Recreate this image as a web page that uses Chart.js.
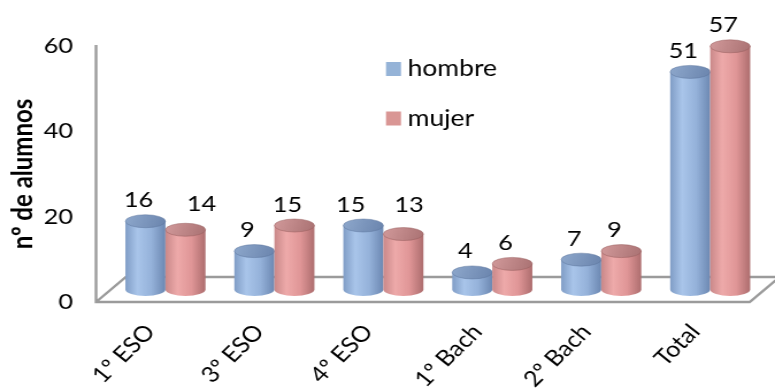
<!DOCTYPE html>
<html>
<head>
<meta charset="utf-8">
<title>Alumnos por curso y sexo</title>
<style>
  html, body { margin: 0; padding: 0; background: #ffffff; overflow: hidden; }
</style>
<script src="https://cdn.jsdelivr.net/npm/chart.js@4"></script>
</head>
<body>
<!-- bitmap is 674 px wide and shown 775 px wide: everything is drawn slightly widened -->
<canvas id="chart" width="674" height="389" style="display:block;width:775px;height:389px"></canvas>
<script>
// ---- data ----
const categories = ['1º ESO', '3º ESO', '4º ESO', '1º Bach', '2º Bach', 'Total'];
const hombre = [16, 9, 15, 4, 7, 51];
const mujer = [14, 15, 13, 6, 9, 57];
const yTicks = [0, 20, 40, 60];
const seriesNames = ['hombre', 'mujer'];

// ---- geometry of the pseudo-3D frame (canvas px) ----
const AXIS_LEFT = 83.5;     // front-left corner of the floor / vertical axis
const AREA_RIGHT = 652;     // front-right corner of the floor
const AREA_TOP = 46;
const AREA_BOTTOM = 302;
const CANVAS_W = 674, CANVAS_H = 389;
const DEPTH_X = 26, DEPTH_Y = -25;            // floor depth vector
const BAR_DX = DEPTH_X / 2, BAR_DY = DEPTH_Y / 2; // bars stand mid-depth
const ELLIPSE_RY = 6.5;

const PALETTES = [
  { legend: '#95b3d7', edge: '#809dc6', light: '#a9c5ea', mid: '#95b2da', dark: '#6c88b2',
    top0: '#8ea8cc', top1: '#6a84ad', rim: 'rgba(90,115,155,0.6)' },
  { legend: '#d99694', edge: '#c98889', light: '#eeaaaa', mid: '#e09697', dark: '#ad6d6e',
    top0: '#d29a9b', top1: '#a97172', rim: 'rgba(150,90,90,0.6)' }
];

// hand-placed label offsets [dx, dy] per series / category
const LABEL_NUDGE = [
  [[0, 0], [0, 0], [-5, 0], [0, 0], [0, 0], [0, 0]],
  [[20, -5], [0, 0], [11, -8], [0, 0], [0, 0], [0, 0]]
];

function drawCylinder(ctx, cx, top, base, w, p) {
  const rx = w / 2, ry = ELLIPSE_RY;
  const l = cx - rx, r = cx + rx;
  const g = ctx.createLinearGradient(l, 0, r, 0);
  g.addColorStop(0, p.edge);
  g.addColorStop(0.3, p.light);
  g.addColorStop(0.65, p.mid);
  g.addColorStop(1, p.dark);
  ctx.beginPath();
  ctx.moveTo(l, top);
  ctx.lineTo(l, base);
  ctx.ellipse(cx, base, rx, ry, 0, Math.PI, 0, true);
  ctx.lineTo(r, top);
  ctx.closePath();
  ctx.fillStyle = g;
  ctx.fill();
  // top cap
  const tg = ctx.createLinearGradient(l, top - ry, r, top + ry);
  tg.addColorStop(0, p.top0);
  tg.addColorStop(1, p.top1);
  ctx.beginPath();
  ctx.ellipse(cx, top, rx, ry, 0, 0, Math.PI * 2);
  ctx.fillStyle = tg;
  ctx.fill();
  ctx.lineWidth = 0.8;
  ctx.strokeStyle = p.rim;
  ctx.stroke();
}

const frameAndCylinders = {
  id: 'frameAndCylinders',
  beforeDatasetsDraw(chart) {
    const { ctx, chartArea: a } = chart;
    ctx.save();
    // floor and vertical axis
    ctx.strokeStyle = '#9b9b9b';
    ctx.lineWidth = 2.4;
    ctx.lineJoin = 'miter';
    ctx.beginPath();
    ctx.moveTo(a.left, a.top - 1);
    ctx.lineTo(a.left, a.bottom);
    ctx.lineTo(a.right, a.bottom);
    ctx.lineTo(a.right + DEPTH_X, a.bottom + DEPTH_Y);
    ctx.moveTo(a.left, a.bottom);
    ctx.lineTo(a.left + DEPTH_X, a.bottom + DEPTH_Y);
    ctx.lineTo(a.right + DEPTH_X + 10, a.bottom + DEPTH_Y);
    ctx.stroke();

    // cylinders
    chart.data.datasets.forEach((ds, i) => {
      const meta = chart.getDatasetMeta(i);
      meta.data.forEach((bar) => {
        const { x, y, base, width } = bar.getProps(['x', 'y', 'base', 'width'], true);
        drawCylinder(ctx, x + BAR_DX, y + BAR_DY, base + BAR_DY, width, PALETTES[i]);
      });
    });

    // value labels
    ctx.fillStyle = '#000000';
    ctx.font = '22px Lato';
    ctx.textAlign = 'center';
    ctx.textBaseline = 'alphabetic';
    chart.data.datasets.forEach((ds, i) => {
      const meta = chart.getDatasetMeta(i);
      meta.data.forEach((bar, j) => {
        const { x, y } = bar.getProps(['x', 'y'], true);
        const n = LABEL_NUDGE[i][j];
        ctx.fillText(String(ds.data[j]), x + BAR_DX - 6 + n[0], y + BAR_DY - 14 + n[1]);
      });
    });
    ctx.restore();
    return false; // bars are fully drawn above
  }
};

const sideLegend = {
  id: 'sideLegend',
  afterDraw(chart) {
    const { ctx } = chart;
    ctx.save();
    ctx.font = '23px Lato';
    ctx.textAlign = 'left';
    ctx.textBaseline = 'alphabetic';
    chart.data.datasets.forEach((ds, i) => {
      const baseline = 76 + i * 49.5;
      ctx.fillStyle = ds.backgroundColor;
      ctx.fillRect(335.7, baseline - 14, 13, 14);
      ctx.fillStyle = '#000000';
      ctx.fillText(ds.label, 354.5, baseline);
    });
    ctx.restore();
  }
};

function build() {
  Chart.defaults.font.family = 'Lato';
  Chart.defaults.color = '#000000';
  new Chart(document.getElementById('chart'), {
    type: 'bar',
    data: {
      labels: categories,
      datasets: [
        { label: seriesNames[0], data: hombre, backgroundColor: PALETTES[0].legend },
        { label: seriesNames[1], data: mujer, backgroundColor: PALETTES[1].legend }
      ]
    },
    options: {
      responsive: false,
      animation: false,
      events: [],
      layout: { padding: { left: 0, right: CANVAS_W - AREA_RIGHT, top: AREA_TOP, bottom: 0 } },
      datasets: { bar: { categoryPercentage: 0.735, barPercentage: 1.0 } },
      plugins: { legend: { display: false }, tooltip: { enabled: false } },
      scales: {
        x: {
          grid: { display: false, drawTicks: false },
          border: { display: false },
          ticks: {
            autoSkip: false,
            minRotation: 48,
            maxRotation: 48,
            padding: 17,
            labelOffset: 0,
            font: { size: 22 },
            color: '#000000'
          },
          afterFit: (s) => { s.height = CANVAS_H - AREA_BOTTOM; }
        },
        y: {
          min: 0,
          max: 60,
          afterBuildTicks: (s) => { s.ticks = yTicks.map((v) => ({ value: v })); },
          grid: { display: false, drawTicks: false },
          border: { display: false },
          ticks: { padding: 20, font: { size: 22 }, color: '#000000' },
          title: {
            display: true,
            text: 'nº de alumnos',
            font: { size: 24, weight: 'bold' },
            color: '#000000',
            padding: { top: 6, bottom: 0 }
          },
          afterFit: (s) => { s.width = AXIS_LEFT; }
        }
      }
    },
    plugins: [frameAndCylinders, sideLegend]
  });
}

if (document.fonts && document.fonts.load) {
  Promise.all([document.fonts.load('22px Lato'), document.fonts.load('bold 24px Lato')])
    .then(build, build);
} else {
  build();
}
</script>
</body>
</html>
